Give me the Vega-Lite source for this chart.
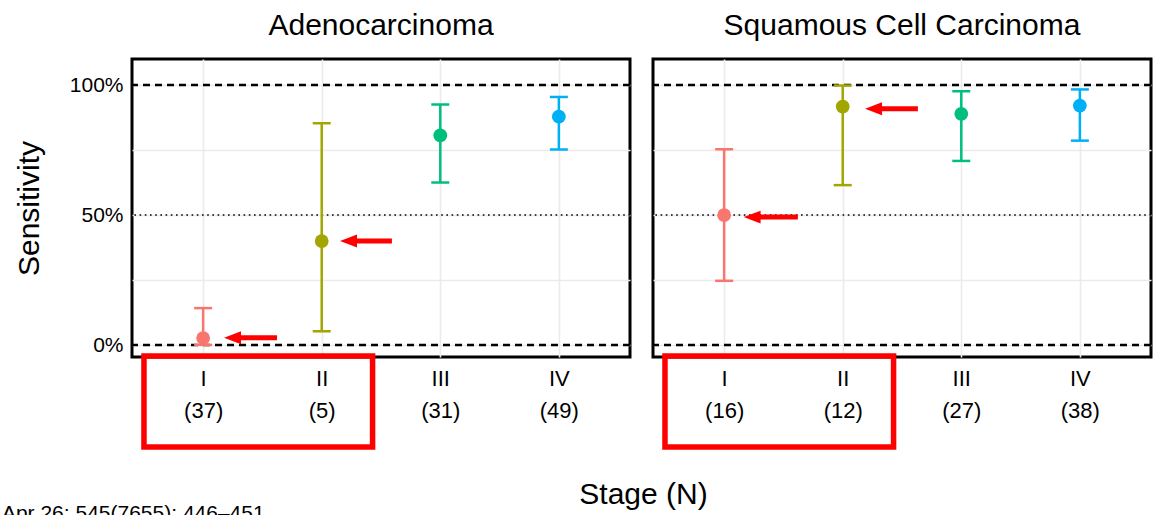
{
  "$schema": "https://vega.github.io/schema/vega-lite/v6.json",
  "padding": {"left": 0, "top": 9, "right": 5, "bottom": 0},
  "background": "white",
  "config": {
    "font": "Liberation Sans",
    "view": {"stroke": "black", "strokeWidth": 3},
    "axis": {"gridColor": "#EBEBEB", "gridWidth": 1.6, "ticks": false, "domain": false, "labelColor": "black", "titleColor": "black", "titleFontWeight": "normal"}
  },
  "datasets": {
    "pts": [
      {"panel": "Adeno", "stage": 1, "label": "I", "n": 37, "sens": 0.027, "lo": 0.0007, "hi": 0.142},
      {"panel": "Adeno", "stage": 2, "label": "II", "n": 5, "sens": 0.4, "lo": 0.053, "hi": 0.853},
      {"panel": "Adeno", "stage": 3, "label": "III", "n": 31, "sens": 0.806, "lo": 0.625, "hi": 0.925},
      {"panel": "Adeno", "stage": 4, "label": "IV", "n": 49, "sens": 0.878, "lo": 0.752, "hi": 0.954},
      {"panel": "Squam", "stage": 1, "label": "I", "n": 16, "sens": 0.5, "lo": 0.247, "hi": 0.753},
      {"panel": "Squam", "stage": 2, "label": "II", "n": 12, "sens": 0.917, "lo": 0.615, "hi": 0.998},
      {"panel": "Squam", "stage": 3, "label": "III", "n": 27, "sens": 0.889, "lo": 0.708, "hi": 0.976},
      {"panel": "Squam", "stage": 4, "label": "IV", "n": 38, "sens": 0.921, "lo": 0.786, "hi": 0.983}
    ],
    "arrows": [
      {"panel": "Adeno", "head": 1.248, "tail": 1.623, "y": 0.028},
      {"panel": "Adeno", "head": 2.226, "tail": 2.592, "y": 0.4},
      {"panel": "Squam", "head": 1.236, "tail": 1.622, "y": 0.492},
      {"panel": "Squam", "head": 2.26, "tail": 2.634, "y": 0.909}
    ],
    "refs": [
      {"y": 0, "kind": "dash"},
      {"y": 1, "kind": "dash"},
      {"y": 0.5, "kind": "dot"}
    ],
    "boxes": [
      {"x1": 0.501, "x2": 2.429, "y1": -0.042, "y2": -0.392}
    ],
    "cite": [
      {"x": -0.697, "y": -0.672, "text": "Apr 26; 545(7655): 446–451"}
    ]
  },
  "hconcat": [
    {
      "width": 498,
      "height": 298,
      "title": {"text": "Adenocarcinoma", "fontSize": 30, "fontWeight": "normal", "anchor": "middle", "frame": "group", "baseline": "alphabetic", "offset": -6},
      "layer": [
        {
          "data": {"name": "refs"},
          "transform": [{"filter": "datum.kind == 'dash'"}],
          "mark": {"type": "rule", "color": "black", "strokeWidth": 2.5, "strokeDash": [7, 5]},
          "encoding": {
            "y": {"field": "y", "type": "quantitative", "scale": {"domain": [-0.046, 1.1], "nice": false, "zero": false},
              "axis": {"values": [0, 0.125, 0.25, 0.375, 0.5, 0.625, 0.75, 0.875, 1], "labelExpr": "datum.value == 0 ? '0%' : datum.value == 0.5 ? '50%' : datum.value == 1 ? '100%' : ''", "labelFontSize": 21, "labelPadding": 9, "title": "Sensitivity", "titleFontSize": 30, "titlePadding": 25}}
          }
        },
        {
          "data": {"name": "refs"},
          "transform": [{"filter": "datum.kind == 'dot'"}],
          "mark": {"type": "rule", "color": "black", "strokeWidth": 1.6, "strokeDash": [1.6, 3.6]},
          "encoding": {"y": {"field": "y", "type": "quantitative"}}
        },
        {
          "data": {"name": "pts"},
          "transform": [{"filter": "datum.panel == 'Adeno'"}],
          "layer": [
            {
              "mark": {"type": "rule", "strokeWidth": 2.5},
              "encoding": {
                "x": {"field": "stage", "type": "quantitative", "scale": {"domain": [0.4, 4.6], "nice": false, "zero": false},
                  "axis": {"values": [1, 2, 3, 4], "labelExpr": "datum.value == 1 ? ['I', '(37)'] : datum.value == 2 ? ['II', '(5)'] : datum.value == 3 ? ['III', '(31)'] : ['IV', '(49)']", "labelFontSize": 22, "labelLineHeight": 32, "labelPadding": 11, "title": "Stage (N)", "titleFontSize": 30, "titleX": 511, "titleY": 137, "titleBaseline": "middle", "titleAnchor": null}},
                "y": {"field": "lo", "type": "quantitative"},
                "y2": {"field": "hi"},
                "color": {"field": "label", "type": "nominal", "scale": {"domain": ["I", "II", "III", "IV"], "range": ["#F8766D", "#A3A500", "#00BF7D", "#00B0F6"]}, "legend": null}
              }
            },
            {
              "mark": {"type": "tick", "orient": "horizontal", "size": 18, "thickness": 2.5, "opacity": 1},
              "encoding": {
                "x": {"field": "stage", "type": "quantitative"},
                "y": {"field": "lo", "type": "quantitative"},
                "color": {"field": "label", "type": "nominal", "legend": null}
              }
            },
            {
              "mark": {"type": "tick", "orient": "horizontal", "size": 18, "thickness": 2.5, "opacity": 1},
              "encoding": {
                "x": {"field": "stage", "type": "quantitative"},
                "y": {"field": "hi", "type": "quantitative"},
                "color": {"field": "label", "type": "nominal", "legend": null}
              }
            },
            {
              "mark": {"type": "point", "shape": "circle", "filled": true, "size": 190, "opacity": 1},
              "encoding": {
                "x": {"field": "stage", "type": "quantitative"},
                "y": {"field": "sens", "type": "quantitative"},
                "color": {"field": "label", "type": "nominal", "legend": null}
              }
            }
          ]
        },
        {
          "data": {"name": "arrows"},
          "transform": [{"filter": "datum.panel == 'Adeno'"}],
          "layer": [
            {
              "mark": {"type": "rule", "color": "#FF0000", "strokeWidth": 5},
              "encoding": {"x": {"field": "head", "type": "quantitative"}, "x2": {"field": "tail"}, "y": {"field": "y", "type": "quantitative"}}
            },
            {
              "mark": {"type": "point", "shape": "M-1,0L1,-0.76L1,0.76Z", "filled": true, "color": "#FF0000", "size": 289, "opacity": 1},
              "encoding": {"x": {"field": "head", "type": "quantitative"}, "y": {"field": "y", "type": "quantitative"}}
            }
          ]
        },
        {
          "data": {"name": "boxes"},
          "mark": {"type": "rect", "filled": false, "stroke": "#FF0000", "strokeWidth": 5.5, "clip": false},
          "encoding": {"x": {"field": "x1", "type": "quantitative"}, "x2": {"field": "x2"}, "y": {"field": "y1", "type": "quantitative"}, "y2": {"field": "y2"}}
        },
        {
          "data": {"name": "cite"},
          "mark": {"type": "text", "align": "left", "baseline": "alphabetic", "fontSize": 21, "color": "black"},
          "encoding": {"x": {"field": "x", "type": "quantitative"}, "y": {"field": "y", "type": "quantitative"}, "text": {"field": "text"}}
        }
      ]
    },
    {
      "width": 498,
      "height": 298,
      "title": {"text": "Squamous Cell Carcinoma", "fontSize": 30, "fontWeight": "normal", "anchor": "middle", "frame": "group", "baseline": "alphabetic", "offset": -6},
      "layer": [
        {
          "data": {"name": "refs"},
          "transform": [{"filter": "datum.kind == 'dash'"}],
          "mark": {"type": "rule", "color": "black", "strokeWidth": 2.5, "strokeDash": [7, 5]},
          "encoding": {
            "y": {"field": "y", "type": "quantitative", "scale": {"domain": [-0.046, 1.1], "nice": false, "zero": false},
              "axis": {"values": [0, 0.125, 0.25, 0.375, 0.5, 0.625, 0.75, 0.875, 1], "labels": false, "title": null}}
          }
        },
        {
          "data": {"name": "refs"},
          "transform": [{"filter": "datum.kind == 'dot'"}],
          "mark": {"type": "rule", "color": "black", "strokeWidth": 1.6, "strokeDash": [1.6, 3.6]},
          "encoding": {"y": {"field": "y", "type": "quantitative"}}
        },
        {
          "data": {"name": "pts"},
          "transform": [{"filter": "datum.panel == 'Squam'"}],
          "layer": [
            {
              "mark": {"type": "rule", "strokeWidth": 2.5},
              "encoding": {
                "x": {"field": "stage", "type": "quantitative", "scale": {"domain": [0.4, 4.6], "nice": false, "zero": false},
                  "axis": {"values": [1, 2, 3, 4], "labelExpr": "datum.value == 1 ? ['I', '(16)'] : datum.value == 2 ? ['II', '(12)'] : datum.value == 3 ? ['III', '(27)'] : ['IV', '(38)']", "labelFontSize": 22, "labelLineHeight": 32, "labelPadding": 11, "title": null}},
                "y": {"field": "lo", "type": "quantitative"},
                "y2": {"field": "hi"},
                "color": {"field": "label", "type": "nominal", "scale": {"domain": ["I", "II", "III", "IV"], "range": ["#F8766D", "#A3A500", "#00BF7D", "#00B0F6"]}, "legend": null}
              }
            },
            {
              "mark": {"type": "tick", "orient": "horizontal", "size": 18, "thickness": 2.5, "opacity": 1},
              "encoding": {
                "x": {"field": "stage", "type": "quantitative"},
                "y": {"field": "lo", "type": "quantitative"},
                "color": {"field": "label", "type": "nominal", "legend": null}
              }
            },
            {
              "mark": {"type": "tick", "orient": "horizontal", "size": 18, "thickness": 2.5, "opacity": 1},
              "encoding": {
                "x": {"field": "stage", "type": "quantitative"},
                "y": {"field": "hi", "type": "quantitative"},
                "color": {"field": "label", "type": "nominal", "legend": null}
              }
            },
            {
              "mark": {"type": "point", "shape": "circle", "filled": true, "size": 190, "opacity": 1},
              "encoding": {
                "x": {"field": "stage", "type": "quantitative"},
                "y": {"field": "sens", "type": "quantitative"},
                "color": {"field": "label", "type": "nominal", "legend": null}
              }
            }
          ]
        },
        {
          "data": {"name": "arrows"},
          "transform": [{"filter": "datum.panel == 'Squam'"}],
          "layer": [
            {
              "mark": {"type": "rule", "color": "#FF0000", "strokeWidth": 5},
              "encoding": {"x": {"field": "head", "type": "quantitative"}, "x2": {"field": "tail"}, "y": {"field": "y", "type": "quantitative"}}
            },
            {
              "mark": {"type": "point", "shape": "M-1,0L1,-0.76L1,0.76Z", "filled": true, "color": "#FF0000", "size": 289, "opacity": 1},
              "encoding": {"x": {"field": "head", "type": "quantitative"}, "y": {"field": "y", "type": "quantitative"}}
            }
          ]
        },
        {
          "data": {"name": "boxes"},
          "mark": {"type": "rect", "filled": false, "stroke": "#FF0000", "strokeWidth": 5.5, "clip": false},
          "encoding": {"x": {"field": "x1", "type": "quantitative"}, "x2": {"field": "x2"}, "y": {"field": "y1", "type": "quantitative"}, "y2": {"field": "y2"}}
        }
      ]
    }
  ],
  "spacing": 23,
  "bounds": "flush"
}
